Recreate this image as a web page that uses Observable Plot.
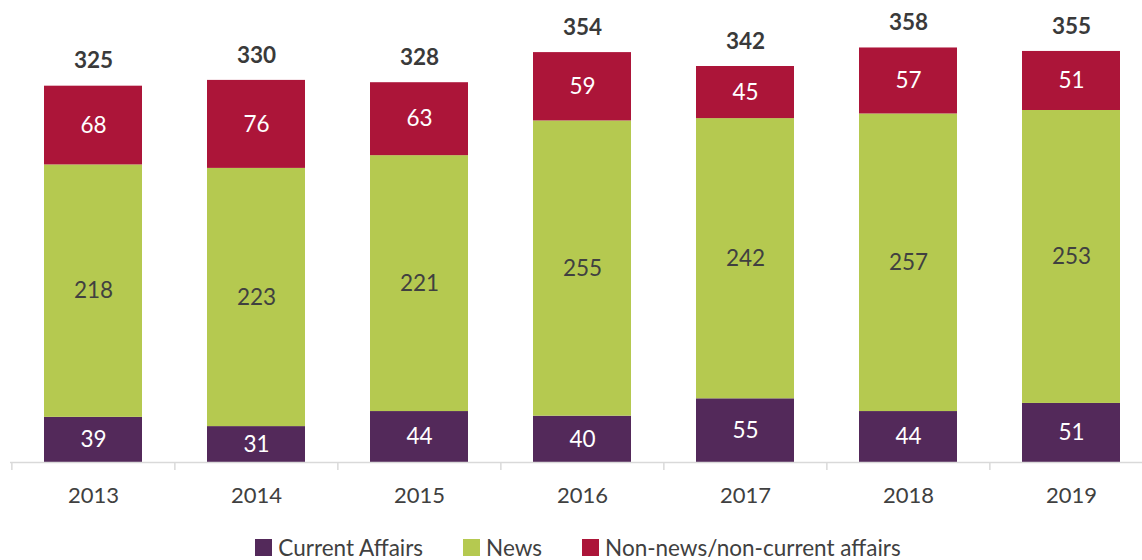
<!DOCTYPE html>
<html>
<head>
<meta charset="utf-8">
<script src="https://cdn.jsdelivr.net/npm/d3@7"></script>
<script src="https://cdn.jsdelivr.net/npm/@observablehq/plot@0.6"></script>
<style>
  html, body { margin: 0; padding: 0; background: #fff; overflow: hidden; }
  body { width: 1142px; height: 560px; font-family: Lato, "Open Sans", sans-serif; }
  #legend { display: flex; justify-content: center; gap: 40px; font-size: 22.5px; color: #404040; height: 34px; align-items: center; margin-left: 14px; }
  #legend .item { display: flex; align-items: center; gap: 6px; }
  #legend .sw { width: 17px; height: 17px; display: inline-block; }
</style>
</head>
<body>
<div id="chart"></div>
<div id="legend"></div>
<script>
const years = ["2013", "2014", "2015", "2016", "2017", "2018", "2019"];
const seriesNames = ["Current Affairs", "News", "Non-news/non-current affairs"];
const currentAffairs = [39, 31, 44, 40, 55, 44, 51];
const news = [218, 223, 221, 255, 242, 257, 253];
const nonNews = [68, 76, 63, 59, 45, 57, 51];
const totals = [325, 330, 328, 354, 342, 358, 355];
const colors = ["#53295a", "#b5c950", "#ac1539"];

const seriesValues = [currentAffairs, news, nonNews];
const rows = [];
seriesNames.forEach((s, si) => {
  years.forEach((yr, i) => rows.push({year: yr, series: s, value: seriesValues[si][i]}));
});
const totalRows = years.map((yr, i) => ({year: yr, total: totals[i]}));

const width = 1142, height = 530;
const marginLeft = 10, marginRight = -11, marginTop = 22, marginBottom = 68;
const step = (width - marginRight - marginLeft) / years.length;

const chart = Plot.plot({
  width, height, marginLeft, marginRight, marginTop, marginBottom,
  style: {fontFamily: "Lato, 'Open Sans', sans-serif", background: "white"},
  x: {domain: years, paddingInner: 0.4, paddingOuter: 0.2, label: null},
  y: {domain: [0, 380], axis: null},
  color: {domain: seriesNames, range: colors},
  marks: [
    Plot.barY(rows, {x: "year", y: "value", z: "series", fill: "series", order: seriesNames}),
    Plot.text(rows, Plot.stackY({x: "year", y: "value", z: "series", order: seriesNames, text: d => String(d.value),
      fill: d => d.series === "News" ? "#404040" : "#ffffff", fontSize: 22.5})),
    Plot.text(totalRows, {x: "year", y: "total", text: d => String(d.total), dy: -25, fontSize: 22.5, fontWeight: "bold", fill: "#3a3a3a"}),
    Plot.ruleY([0], {stroke: "#d9d9d9", strokeWidth: 1.5}),
    Plot.ruleX(years, {x: d => d, dx: -step / 2, y1: 0, y2: -7, stroke: "#d9d9d9", strokeWidth: 1.5}),
    Plot.axisX({tickSize: 0, tickPadding: 25, fontSize: 22, fill: "#404040"})
  ]
});
document.getElementById("chart").appendChild(chart);

const legend = d3.select("#legend");
seriesNames.forEach((s, i) => {
  const item = legend.append("div").attr("class", "item");
  item.append("span").attr("class", "sw").style("background", colors[i]);
  item.append("span").text(s);
});
</script>
</body>
</html>
